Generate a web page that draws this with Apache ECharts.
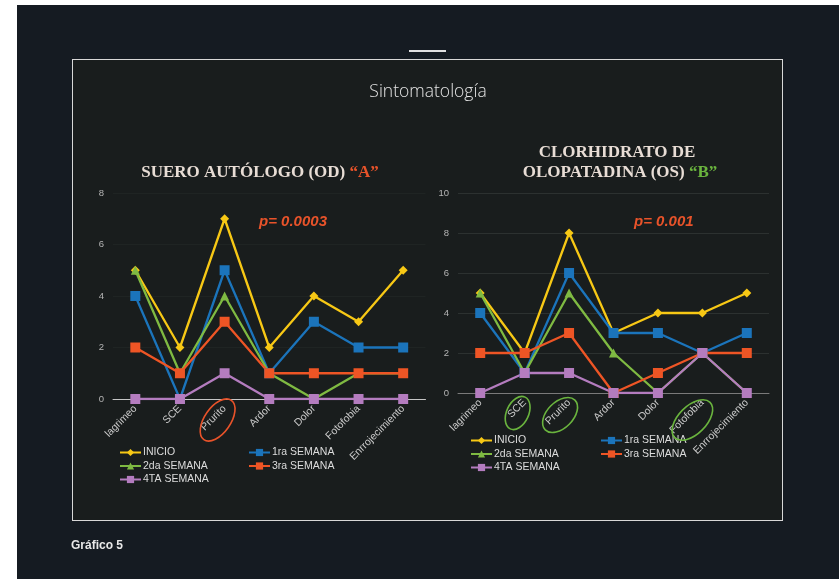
<!DOCTYPE html>
<html>
<head>
<meta charset="utf-8">
<script src="https://cdn.jsdelivr.net/npm/echarts@6/dist/echarts.min.js"></script>
<style>
html,body{margin:0;padding:0;background:#ffffff;width:839px;height:579px;overflow:hidden;}
#panel{position:absolute;left:17px;top:5px;width:822px;height:574px;background:#151b22;}
#box{position:absolute;left:72px;top:59px;width:709px;height:460px;background:#191d1d;border:1px solid #d8d8d8;}
#dash{position:absolute;left:409px;top:50px;width:37px;height:2px;background:#e0e0e0;}
#chart{position:absolute;left:0;top:0;width:839px;height:579px;}
</style>
</head>
<body>
<div id="panel"></div>
<div id="box"></div>
<div id="dash"></div>
<div id="chart"></div>
<script>
// ---- data ----
const categories = ['lagrimeo', 'SCE', 'Prurito', 'Ardor', 'Dolor', 'Fotofobia', 'Enrrojecimiento'];
const seriesNames = ['INICIO', '1ra SEMANA', '2da SEMANA', '3ra SEMANA', '4TA SEMANA'];
// Chart A: Suero autólogo (OD)
const aInicio = [5, 2, 7, 2, 4, 3, 5];
const aSemana1 = [4, 0, 5, 1, 3, 2, 2];
const aSemana2 = [5, 1, 4, 1, 0, 1, 1];
const aSemana3 = [2, 1, 3, 1, 1, 1, 1];
const aSemana4 = [0, 0, 1, 0, 0, 0, 0];
// Chart B: Clorhidrato de olopatadina (OS)
const bInicio = [5, 2, 8, 3, 4, 4, 5];
const bSemana1 = [4, 1, 6, 3, 3, 2, 3];
const bSemana2 = [5, 1, 5, 2, 0, 2, 0];
const bSemana3 = [2, 2, 3, 0, 1, 2, 2];
const bSemana4 = [0, 1, 1, 0, 0, 2, 0];
const yTicksA = [0, 2, 4, 6, 8];
const yTicksB = [0, 2, 4, 6, 8, 10];

const colors = ['#f7c815', '#1b74bb', '#7fba42', '#ee5525', '#b47cbf'];
const symbols = ['diamond', 'rect', 'triangle', 'rect', 'rect'];
const symSizes = [9, 10, 9, 10, 10];

const chart = echarts.init(document.getElementById('chart'), null, {renderer: 'canvas'});

function mkSeries(data, idx, axis) {
  return {
    type: 'line', name: seriesNames[idx], data: data,
    xAxisIndex: axis, yAxisIndex: axis,
    symbol: symbols[idx], symbolSize: symSizes[idx], showAllSymbol: true,
    lineStyle: {color: colors[idx], width: 2.3},
    itemStyle: {color: colors[idx]},
    animation: false
  };
}
const A = [aInicio, aSemana1, aSemana2, aSemana3, aSemana4];
const B = [bInicio, bSemana1, bSemana2, bSemana3, bSemana4];
const series = [];
A.forEach((d, i) => series.push(mkSeries(d, i, 0)));
B.forEach((d, i) => series.push(mkSeries(d, i, 1)));

const labelCol = '#c8c8c8';
function xAx(grid, lineCol) {
  return {
    type: 'category', gridIndex: grid, data: categories, boundaryGap: true,
    axisLine: {lineStyle: {color: lineCol, width: 1}},
    axisTick: {show: false},
    axisLabel: {interval: 0, rotate: 45, color: labelCol, fontSize: 10.5, fontFamily: 'Liberation Sans', margin: 8}
  };
}
function yAx(grid, ticks, splitCol) {
  return {
    type: 'value', gridIndex: grid, min: ticks[0], max: ticks[ticks.length - 1], interval: ticks[1] - ticks[0],
    axisLine: {show: false}, axisTick: {show: false},
    splitLine: {lineStyle: {color: splitCol, width: 1}},
    axisLabel: {color: '#b5b5b5', fontSize: 9.5, fontFamily: 'Liberation Sans', margin: 9}
  };
}

function legendComp(names, left, top) {
  return {
    data: names, left: left, top: top, orient: 'vertical', padding: 0,
    itemWidth: 21, itemHeight: 9, itemGap: 2.5,
    textStyle: {color: '#dcdcdc', fontSize: 10.5, fontFamily: 'Liberation Sans', padding: [0, 0, 0, -3]},
    selectedMode: false
  };
}

const option = {
  backgroundColor: 'transparent',
  animation: false,
  grid: [
    {left: 113, top: 193, width: 312.5, height: 206},
    {left: 458, top: 193, width: 311, height: 200}
  ],
  xAxis: [xAx(0, '#c6c6c6'), xAx(1, '#7a7a7a')],
  yAxis: [yAx(0, yTicksA, '#1f2423'), yAx(1, yTicksB, '#2c3130')],
  legend: [
    legendComp(['INICIO', '2da SEMANA', '4TA SEMANA'], 119, 447),
    legendComp(['1ra SEMANA', '3ra SEMANA'], 248, 447),
    legendComp(['INICIO', '2da SEMANA', '4TA SEMANA'], 470, 435),
    legendComp(['1ra SEMANA', '3ra SEMANA'], 600, 435)
  ],
  series: series
};
chart.setOption(option);

const red = '#e8532a', green = '#6ab43e', cream = '#e8ddd5';
function ellipseAt(axis, cat, dx, dy, a, b, rot, col) {
  const p = chart.convertToPixel({xAxisIndex: axis, yAxisIndex: axis}, [cat, 0]);
  return {
    type: 'ellipse', x: p[0] + dx, y: p[1] + dy, rotation: rot, z: 100,
    shape: {cx: 0, cy: 0, rx: a, ry: b},
    style: {fill: 'none', stroke: col, lineWidth: 1.6}
  };
}
const rad = d => d * Math.PI / 180;
const graphic = [
  {type: 'text', x: 428, y: 92, z: 100, style: {text: 'Sintomatología', font: '300 17.5px "Open Sans"', fill: '#e4e4e4', align: 'center', verticalAlign: 'middle'}},
  {type: 'text', x: 260, y: 173, z: 100, style: {
    text: '{w|SUERO AUTÓLOGO (OD) }{r|“A”}', align: 'center', verticalAlign: 'middle',
    rich: {w: {fill: cream, font: 'bold 17px "Liberation Serif"'}, r: {fill: red, font: 'bold 17px "Liberation Serif"'}}}},
  {type: 'text', x: 617, y: 153, z: 100, style: {text: 'CLORHIDRATO DE', font: 'bold 17px "Liberation Serif"', fill: cream, align: 'center', verticalAlign: 'middle'}},
  {type: 'text', x: 620, y: 173, z: 100, style: {
    text: '{w|OLOPATADINA (OS) }{g|“B”}', align: 'center', verticalAlign: 'middle',
    rich: {w: {fill: cream, font: 'bold 17px "Liberation Serif"'}, g: {fill: green, font: 'bold 17px "Liberation Serif"'}}}},
  {type: 'text', x: 259, y: 222, z: 100, style: {text: 'p= 0.0003', font: 'italic bold 15px "Liberation Sans"', fill: red, align: 'left', verticalAlign: 'middle'}},
  {type: 'text', x: 634, y: 222, z: 100, style: {text: 'p= 0.001', font: 'italic bold 15px "Liberation Sans"', fill: red, align: 'left', verticalAlign: 'middle'}},
  {type: 'text', x: 71, y: 546, z: 100, style: {text: 'Gráfico 5', font: 'bold 12px "Liberation Sans"', fill: '#e8e8e8', align: 'left', verticalAlign: 'middle'}},
  ellipseAt(0, 'Prurito', -7, 21, 24, 13, rad(55), red),
  ellipseAt(1, 'SCE', -7, 20, 17.5, 11, rad(65), green),
  ellipseAt(1, 'Prurito', -9, 22, 21, 13, rad(45), green),
  ellipseAt(1, 'Fotofobia', -10, 27, 25, 14, rad(45), green)
];
chart.setOption({graphic: graphic});
</script>
</body>
</html>
